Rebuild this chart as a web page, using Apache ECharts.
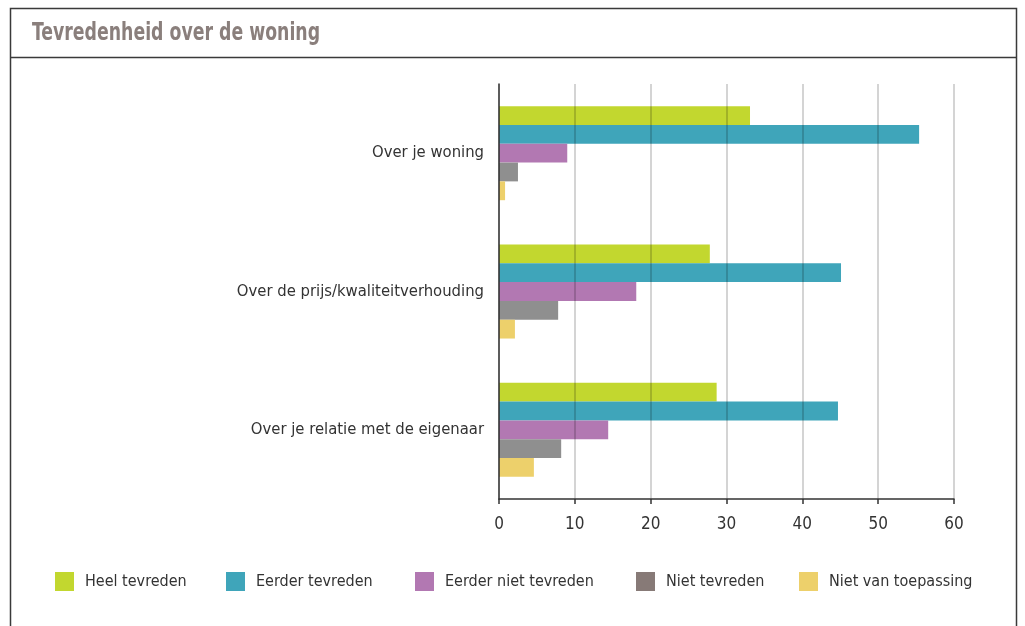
<!DOCTYPE html>
<html>
<head>
<meta charset="utf-8">
<script src="https://cdn.jsdelivr.net/npm/echarts@6/dist/echarts.min.js"></script>
<style>
  html, body { margin: 0; padding: 0; background: #fff; }
  #chart { width: 1025px; height: 626px; }
</style>
</head>
<body>
<div id="chart"></div>
<script>
// Survey: satisfaction with the dwelling (percent)
var categories = ['Over je woning', 'Over de prijs/kwaliteitverhouding', 'Over je relatie met de eigenaar'];
var seriesNames = ['Heel tevreden', 'Eerder tevreden', 'Eerder niet tevreden', 'Niet tevreden', 'Niet van toepassing'];
var heelTevreden = [33.1, 27.8, 28.7];
var eerderTevreden = [55.4, 45.1, 44.7];
var eerderNietTevreden = [9.0, 18.1, 14.4];
var nietTevreden = [2.5, 7.8, 8.2];
var nietVanToepassing = [0.8, 2.1, 4.6];
var xTicks = [0, 10, 20, 30, 40, 50, 60];

var values = [heelTevreden, eerderTevreden, eerderNietTevreden, nietTevreden, nietVanToepassing];
var barColors = ['#c2d72f', '#3fa5ba', '#b278b2', '#8f8f8f', '#edd06b'];
var legendColors = ['#c2d72f', '#3fa5ba', '#b278b2', '#877a77', '#edd06b'];
var legendLeft = [55, 226, 415, 636, 799];

var FONT = '"DejaVu Sans Condensed", "Liberation Sans Narrow", sans-serif';

var chart = echarts.init(document.getElementById('chart'), null, { renderer: 'canvas' });

var legends = seriesNames.map(function (name, i) {
  return {
    left: legendLeft[i],
    top: 572,
    padding: 0,
    itemWidth: 19,
    itemHeight: 19,
    itemGap: 0,
    icon: 'rect',
    selectedMode: false,
    textStyle: { fontFamily: FONT, fontSize: 16, color: '#333', padding: [0, 0, 0, 6] },
    data: [{ name: name, itemStyle: { color: legendColors[i] } }]
  };
});

var series = seriesNames.map(function (name, i) {
  return {
    name: name,
    type: 'bar',
    data: values[i],
    barGap: '0%',
    barCategoryGap: '32%',
    itemStyle: { color: barColors[i] },
    animation: false
  };
});

chart.setOption({
  animation: false,
  graphic: [
    { type: 'rect', shape: { x: 10.5, y: 8.5, width: 1006, height: 640 }, style: { fill: 'none', stroke: '#3a3a3a', lineWidth: 1.5 } },
    { type: 'line', shape: { x1: 10.5, y1: 57.5, x2: 1016.5, y2: 57.5 }, style: { stroke: '#3a3a3a', lineWidth: 1.5 } },
    {
      type: 'text', x: 32, y: 33, scaleX: 0.77,
      style: {
        text: 'Tevredenheid over de woning',
        fill: '#8a7f7c',
        font: 'bold 25px "DejaVu Sans Condensed", sans-serif',
        verticalAlign: 'middle'
      }
    }
  ],
  legend: legends,
  grid: { left: 499, right: 71, top: 84, bottom: 127, containLabel: false },
  xAxis: {
    type: 'value',
    min: 0,
    max: 60,
    interval: 10,
    z: 10,
    axisLine: { show: true, lineStyle: { color: '#333', width: 1.5 } },
    axisTick: { show: true, length: 5, lineStyle: { color: '#333', width: 1.5 } },
    axisLabel: {
      margin: 17,
      fontFamily: FONT, fontSize: 17, color: '#333',
      formatter: function (v) { return xTicks.indexOf(v) >= 0 ? String(v) : ''; }
    },
    splitLine: { show: true, lineStyle: { color: 'rgba(0,0,0,0.17)', width: 2 } }
  },
  yAxis: {
    type: 'category',
    data: categories,
    inverse: true,
    z: 11,
    axisLine: { show: true, lineStyle: { color: '#333', width: 1.5 } },
    axisTick: {
      show: true, length: 6,
      interval: function () { return false; },
      lineStyle: { color: '#333', width: 1.5 }
    },
    axisLabel: { margin: 15, fontFamily: FONT, fontSize: 16.5, color: '#333', interval: 0 }
  },
  series: series
});
</script>
</body>
</html>
